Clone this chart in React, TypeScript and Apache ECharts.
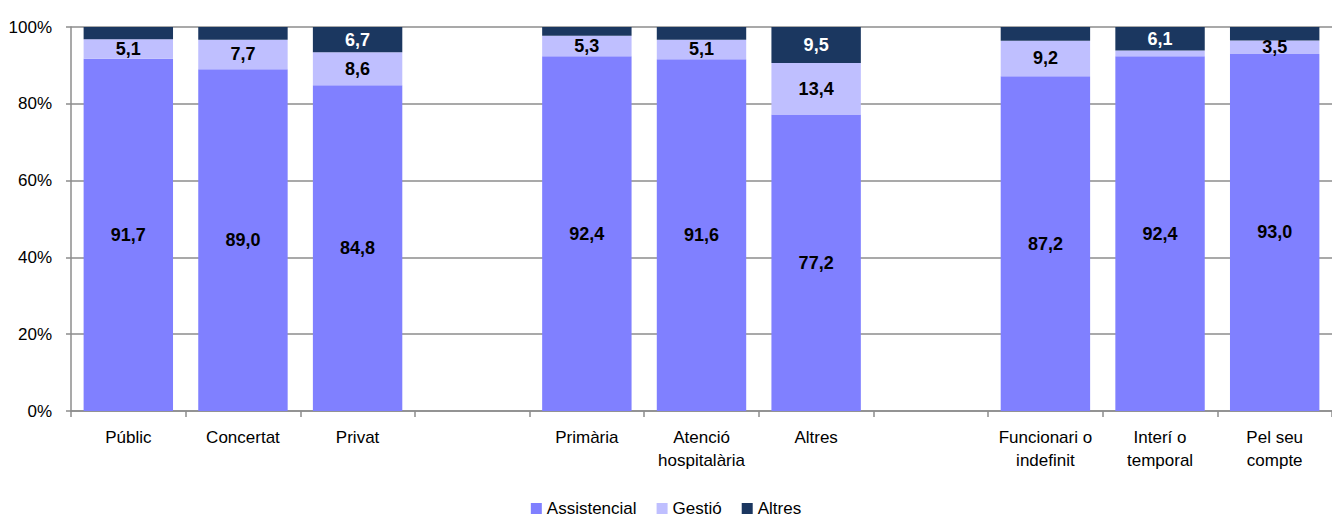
import React, { useEffect, useRef } from "react";
import * as echarts from "echarts";

const categories = [
  "Públic",
  "Concertat",
  "Privat",
  "",
  "Primària",
  "Atenció\nhospitalària",
  "Altres",
  "",
  "Funcionari o\nindefinit",
  "Interí o\ntemporal",
  "Pel seu\ncompte",
];
const assistencial = [91.7, 89.0, 84.8, null, 92.4, 91.6, 77.2, null, 87.2, 92.4, 93.0];
const gestio = [5.1, 7.7, 8.6, null, 5.3, 5.1, 13.4, null, 9.2, 1.5, 3.5];
const altres = [3.2, 3.3, 6.7, null, 2.3, 3.3, 9.5, null, 3.6, 6.1, 3.5];
const showAssistencial = [true, true, true, false, true, true, true, false, true, true, true];
const showGestio = [true, true, true, false, true, true, true, false, true, false, true];
const showAltres = [false, false, true, false, false, false, true, false, false, true, false];
const yTicks = [0, 20, 40, 60, 80, 100];

const FONT = "'Liberation Sans Narrow', 'Arial Narrow', 'Liberation Sans', Arial, sans-serif";

const fmt = (v: number) => v.toFixed(1).replace(".", ",");

function mk(values: (number | null)[], show: boolean[]) {
  return values.map((v, i) => ({
    value: v,
    label: { show: show[i] && v != null },
  }));
}

export default function App() {
  const ref = useRef<HTMLDivElement>(null);
  useEffect(() => {
    if (!ref.current) return;
    const chart = echarts.init(ref.current, null, { renderer: "svg" });
    const labelBase = {
      position: "inside",
      fontFamily: FONT,
      fontSize: 18,
      fontWeight: "bold",
      formatter: (p: any) => fmt(p.value),
    };
    chart.setOption({
      animation: false,
      grid: { left: 71, top: 27, width: 1266, bottom: 108, containLabel: false },
      legend: {
        top: 500,
        left: "center",
        padding: [0, 5],
        itemWidth: 11,
        itemHeight: 11,
        itemGap: 20,
        icon: "rect",
        textStyle: { fontFamily: FONT, fontSize: 17, lineHeight: 17, color: "#000" },
        data: ["Assistencial", "Gestió", "Altres"],
      },
      xAxis: {
        type: "category",
        data: categories,
        axisLine: { lineStyle: { color: "#8c8c8c", width: 1.5 } },
        axisTick: { show: true, length: 6, alignWithLabel: false, lineStyle: { color: "#8c8c8c", width: 1.5 } },
        axisLabel: {
          interval: 0,
          fontFamily: FONT,
          fontSize: 17,
          color: "#000",
          margin: 15,
          lineHeight: 23,
        },
      },
      yAxis: {
        type: "value",
        min: 0,
        max: 100,
        interval: 20,
        axisLine: { show: true, lineStyle: { color: "#8c8c8c", width: 1.5 } },
        axisTick: { show: true, length: 5, lineStyle: { color: "#8c8c8c", width: 1.5 } },
        splitLine: { lineStyle: { color: "#8c8c8c", width: 1.5 } },
        axisLabel: {
          fontFamily: FONT,
          fontSize: 17,
          color: "#000",
          margin: 19,
          formatter: (v: number) => (yTicks.includes(v) ? v + "%" : ""),
        },
      },
      series: [
        {
          name: "Assistencial",
          type: "bar",
          stack: "total",
          barCategoryGap: "22%",
          itemStyle: { color: "#8080FF" },
          label: { ...labelBase, color: "#000" },
          data: mk(assistencial, showAssistencial),
        },
        {
          name: "Gestió",
          type: "bar",
          stack: "total",
          barCategoryGap: "22%",
          itemStyle: { color: "#BFBFFF" },
          label: { ...labelBase, color: "#000" },
          data: mk(gestio, showGestio),
        },
        {
          name: "Altres",
          type: "bar",
          stack: "total",
          barCategoryGap: "22%",
          itemStyle: { color: "#1B3760" },
          label: { ...labelBase, color: "#fff" },
          data: mk(altres, showAltres),
        },
      ],
    });
    return () => chart.dispose();
  }, []);
  return (
    <div
      ref={ref}
      style={{ position: "fixed", left: 0, top: 0, width: 1332, height: 519, background: "#fff" }}
    />
  );
}
